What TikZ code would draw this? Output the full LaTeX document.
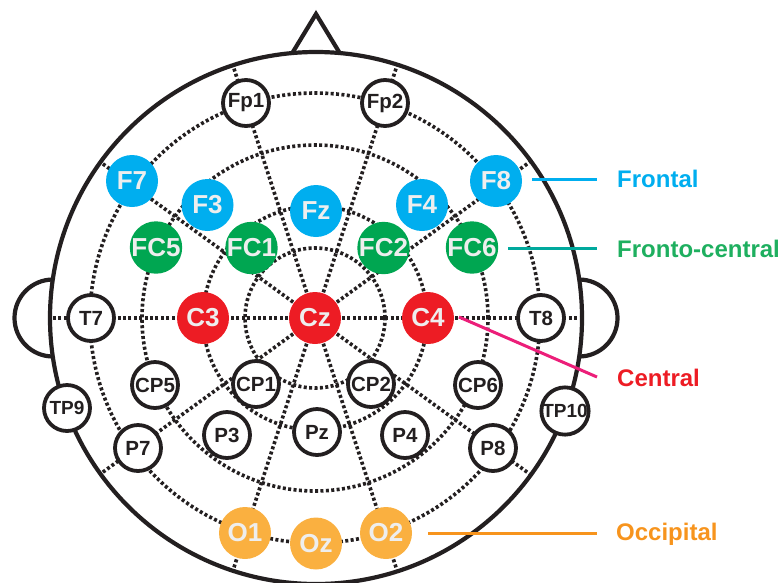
\documentclass[tikz,border=0pt]{standalone}
\usepackage{fontspec}
\setmainfont{Liberation Sans}
\usetikzlibrary{calc}
\definecolor{ecyan}{RGB}{0,174,239}
\definecolor{egreen}{RGB}{0,166,81}
\definecolor{ered}{RGB}{237,28,36}
\definecolor{eorange}{RGB}{250,176,64}
\definecolor{eblack}{RGB}{35,31,32}
\definecolor{etext}{RGB}{238,238,238}
\definecolor{lgreen}{RGB}{30,175,95}
\definecolor{lteal}{RGB}{0,169,157}
\definecolor{lpink}{RGB}{236,30,121}
\definecolor{lorange}{RGB}{247,148,29}
\begin{document}
\begin{tikzpicture}[x=1pt,y=-1pt,
  grid/.style={draw=eblack, line width=3.6pt, dash pattern=on 3pt off 2.4pt},
  outline/.style={draw=eblack, line width=4.2pt},
  blk/.style={circle, draw=eblack, line width=3.8pt, fill=white, minimum size=46pt, inner sep=0pt, text=eblack, font=\fontsize{20.5}{21}\selectfont\bfseries},
  col/.style={circle, fill=#1, minimum size=52pt, inner sep=0pt, text=etext, font=\fontsize{26}{27}\selectfont\bfseries},
  lab/.style={anchor=base west, inner sep=0pt, font=\fontsize{24}{25}\selectfont\bfseries},
  pointer/.style={line width=3pt}
]
\useasboundingbox (0,0) rectangle (783,582);
\coordinate (ctr) at (315,318);
% dotted grid: rings and radials
\foreach \r in {70,112,173,225} \draw[grid] (ctr) circle[radius=\r pt];
\foreach \a in {0,36,...,324} \draw[grid] (ctr) -- ++(\a:265pt);
% head, ears, nose
\draw[outline] (316,318) circle[radius=266pt];
\draw[outline] (53,279.5) arc[start angle=90, end angle=270, radius=38.5pt];
\draw[outline] (579,279.5) arc[start angle=90, end angle=-90, radius=38.5pt];
\draw[outline, line join=miter] (292,53.5) -- (316,14) -- (340,53.5);
% black electrodes
\node[blk] (Fp1) at (246,103) {Fp1};
\node[blk] (Fp2) at (385,103) {Fp2};
\node[blk] (T7) at (91,318) {T7};
\node[blk] (T8) at (541,318) {T8};
\node[blk] (CP5) at (155,385) {CP5};
\node[blk] (CP1) at (256,384) {CP1};
\node[blk] (CP2) at (371,384) {CP2};
\node[blk] (CP6) at (478,385) {CP6};
\node[blk, font=\fontsize{19}{20}\selectfont\bfseries] (TP9) at (67,408) {TP9};
\node[blk, font=\fontsize{19}{20}\selectfont\bfseries] (TP10) at (565,411) {TP10};
\node[blk] (P7) at (138,448) {P7};
\node[blk] (P3) at (227,435) {P3};
\node[blk] (Pz) at (317,432) {Pz};
\node[blk] (P4) at (405,435) {P4};
\node[blk] (P8) at (493,448) {P8};
% coloured electrodes
\node[col=ecyan] (F7) at (132,181) {F7};
\node[col=ecyan] (F3) at (207.5,205) {F3};
\node[col=ecyan] (Fz) at (316,211) {Fz};
\node[col=ecyan] (F4) at (422,205) {F4};
\node[col=ecyan] (F8) at (496,181) {F8};
\node[col=egreen] (FC5) at (156,247.5) {FC5};
\node[col=egreen] (FC1) at (251.5,248) {FC1};
\node[col=egreen] (FC2) at (383.5,248) {FC2};
\node[col=egreen] (FC6) at (472,247.5) {FC6};
\node[col=ered] (C3) at (203,318) {C3};
\node[col=ered] (Cz) at (315,318) {Cz};
\node[col=ered] (C4) at (428,318) {C4};
\node[col=eorange] (O1) at (245,533) {O1};
\node[col=eorange] (Oz) at (316,543.5) {Oz};
\node[col=eorange] (O2) at (386,533) {O2};
% region labels
\node[lab, text=ecyan] (frontal) at (617,187) {Frontal};
\node[lab, text=lgreen] (fronto) at (617,257) {Fronto-central};
\node[lab, text=ered] (central) at (617,386) {Central};
\node[lab, text=lorange] (occip) at (616,540.5) {Occipital};
\coordinate (fA) at (532,179); \coordinate (fB) at (597,179);
\coordinate (gA) at (508,248); \coordinate (gB) at (597,248);
\coordinate (cA) at (459,317); \coordinate (cB) at (597,377);
\coordinate (oA) at (428,533); \coordinate (oB) at (597,533);
\draw[pointer, ecyan] (fA) -- (fB);
\draw[pointer, lteal] (gA) -- (gB);
\draw[pointer, lpink] (cA) -- (cB);
\draw[pointer, lorange] (oA) -- (oB);
\end{tikzpicture}
\end{document}
